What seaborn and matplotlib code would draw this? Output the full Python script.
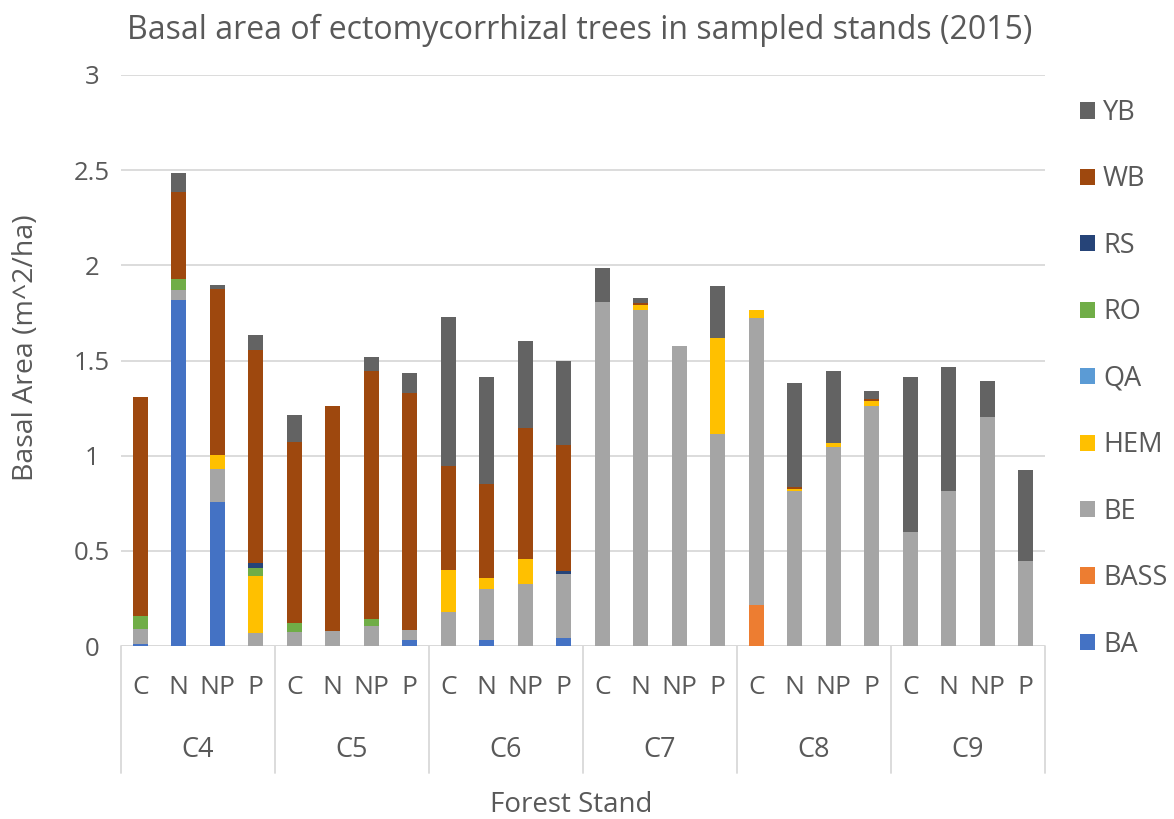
import numpy as np
import pandas as pd
import matplotlib
matplotlib.use("Agg")
import matplotlib.pyplot as plt
import matplotlib.transforms as mtransforms
from matplotlib.patches import Patch
import seaborn as sns

# Stands and treatments (one bar per stand/treatment pair)
stands = ["C4", "C5", "C6", "C7", "C8", "C9"]
treatments = ["C", "N", "NP", "P"]

# Basal area (m^2/ha) per species, in bar order C4-C ... C9-P
BA   = [0.010, 1.816, 0.758, 0.000,  0.000, 0.000, 0.000, 0.032,  0.000, 0.032, 0.000, 0.041,
        0.000, 0.000, 0.000, 0.000,  0.000, 0.000, 0.000, 0.000,  0.000, 0.000, 0.000, 0.000]
BASS = [0.000, 0.000, 0.000, 0.000,  0.000, 0.000, 0.000, 0.000,  0.000, 0.000, 0.000, 0.000,
        0.000, 0.000, 0.000, 0.000,  0.218, 0.000, 0.000, 0.000,  0.000, 0.000, 0.000, 0.000]
BE   = [0.080, 0.053, 0.173, 0.067,  0.076, 0.081, 0.106, 0.053,  0.181, 0.268, 0.328, 0.335,
        1.807, 1.765, 1.574, 1.114,  1.507, 0.813, 1.047, 1.262,  0.600, 0.812, 1.204, 0.446]
HEM  = [0.000, 0.000, 0.074, 0.300,  0.000, 0.000, 0.000, 0.000,  0.217, 0.058, 0.131, 0.000,
        0.000, 0.025, 0.000, 0.503,  0.041, 0.010, 0.020, 0.025,  0.000, 0.000, 0.000, 0.000]
QA   = [0.000] * 24
RO   = [0.070, 0.058, 0.000, 0.044,  0.047, 0.000, 0.035, 0.000,  0.000, 0.000, 0.000, 0.000,
        0.000, 0.000, 0.000, 0.000,  0.000, 0.000, 0.000, 0.000,  0.000, 0.000, 0.000, 0.000]
RS   = [0.000, 0.000, 0.000, 0.026,  0.000, 0.000, 0.000, 0.000,  0.000, 0.000, 0.000, 0.018,
        0.000, 0.000, 0.000, 0.000,  0.000, 0.000, 0.000, 0.000,  0.000, 0.000, 0.000, 0.000]
WB   = [1.150, 0.458, 0.870, 1.120,  0.949, 1.182, 1.305, 1.243,  0.550, 0.494, 0.684, 0.662,
        0.000, 0.010, 0.000, 0.000,  0.000, 0.010, 0.000, 0.010,  0.000, 0.000, 0.000, 0.000]
YB   = [0.000, 0.100, 0.023, 0.076,  0.141, 0.000, 0.071, 0.106,  0.782, 0.561, 0.460, 0.441,
        0.180, 0.028, 0.000, 0.273,  0.000, 0.549, 0.380, 0.043,  0.815, 0.656, 0.190, 0.480]

species = ["BA", "BASS", "BE", "HEM", "QA", "RO", "RS", "WB", "YB"]
series = [BA, BASS, BE, HEM, QA, RO, RS, WB, YB]
colors = ["#4472C4", "#ED7D31", "#A5A5A5", "#FFC000", "#5B9BD5",
          "#70AD47", "#264478", "#9E480E", "#636363"]
palette = dict(zip(species, colors))

# Long table: one row per bar segment
n_bars = len(stands) * len(treatments)
rows = []
for sp, vals in zip(species, series):
    for i in range(n_bars):
        rows.append({"pos": i, "species": sp, "value": vals[i]})
df = pd.DataFrame(rows)

sns.set_theme(style="white")
text_col = "#595959"
grid_col = "#D9D9D9"
plt.rcParams["font.family"] = ["Open Sans", "DejaVu Sans"]

W, H = 1174, 819
fig = plt.figure(figsize=(W / 100, H / 100), dpi=100)
ax_left, ax_right, ax_top, ax_bottom = 121, 1045, 75, 646
ax = fig.add_axes([ax_left / W, 1 - ax_bottom / H,
                   (ax_right - ax_left) / W, (ax_bottom - ax_top) / H])

# Stacked bars: first hue level ends up on top of each stack
hue_order = species[::-1]
sns.histplot(data=df, x="pos", weights="value", hue="species",
             hue_order=hue_order, palette=palette, multiple="stack",
             discrete=True, shrink=0.4, alpha=1, linewidth=0,
             legend=False, ax=ax)

ax.set_xlim(-0.5, n_bars - 0.5)
ax.set_ylim(0, 3)
ax.set_yticks(np.arange(0, 3.01, 0.5))
ax.set_yticklabels(["0", "0.5", "1", "1.5", "2", "2.5", "3"])
ax.yaxis.grid(True, color=grid_col, linewidth=1.3)
ax.set_axisbelow(True)
for s in ax.spines.values():
    s.set_visible(False)
ax.axhline(0, color=grid_col, linewidth=1.3, zorder=0.5)
ax.tick_params(axis="y", length=0, pad=21, labelsize=18.5, labelcolor=text_col)
for lab in ax.get_yticklabels():
    lab.set_horizontalalignment("center")
ax.set_xticks([])
ax.set_xlabel("")
ax.set_ylabel("")

# Two-level category axis below the bars
trans = mtransforms.blended_transform_factory(ax.transData, ax.transAxes)
ax_h = ax_bottom - ax_top
for i in range(n_bars):
    ax.text(i, -(688 - ax_bottom) / ax_h, treatments[i % 4], transform=trans,
            ha="center", va="center", fontsize=19, color=text_col)
for g, st in enumerate(stands):
    ax.text(g * 4 + 1.5, -(750 - ax_bottom) / ax_h, st, transform=trans,
            ha="center", va="center", fontsize=19.5, color=text_col)
for g in range(len(stands) + 1):
    ax.plot([g * 4 - 0.5, g * 4 - 0.5], [0, -(773 - ax_bottom) / ax_h],
            transform=trans, color=grid_col, linewidth=1.3, clip_on=False)

# Titles and axis labels
fig.text(580 / W, 1 - 30 / H,
         "Basal area of ectomycorrhizal trees in sampled stands (2015)",
         ha="center", va="center", fontsize=23, color=text_col)
fig.text(571 / W, 1 - 805 / H, "Forest Stand",
         ha="center", va="center", fontsize=20, color=text_col)
fig.text(26 / W, 1 - 348 / H, "Basal Area (m^2/ha)", rotation=90,
         ha="center", va="center", fontsize=20.5, color=text_col)

# Legend, top entry = top of stack
handles = [Patch(facecolor=palette[s], edgecolor="none") for s in hue_order]
fig.legend(handles, hue_order, loc="upper left",
           bbox_to_anchor=(1080 / W, 1 - 99 / H), frameon=False,
           borderpad=0, borderaxespad=0, fontsize=19.5, labelcolor=text_col,
           handlelength=0.55, handleheight=0.55, handletextpad=0.3,
           labelspacing=1.42)

fig.savefig("out.png", dpi=100, facecolor="white")
